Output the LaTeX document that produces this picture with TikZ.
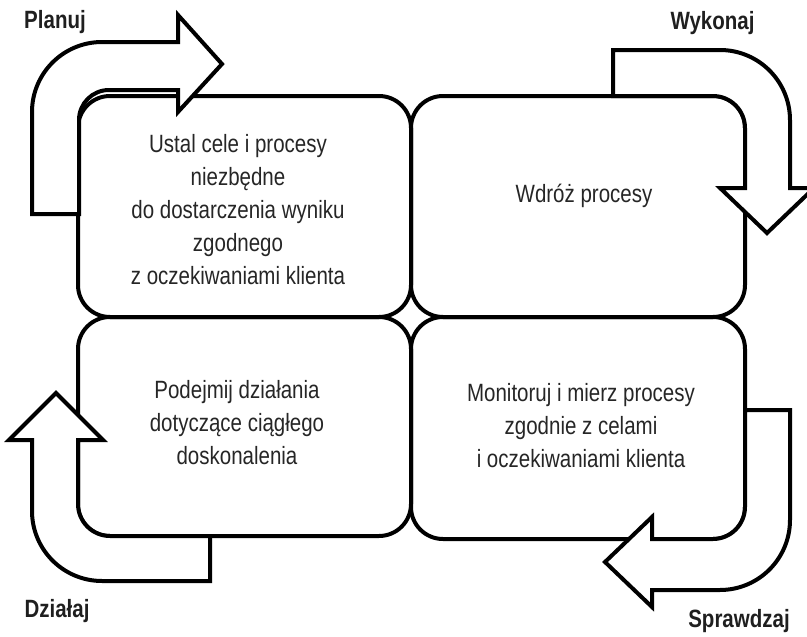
\documentclass[tikz,border=0pt]{standalone}
\usepackage{fontspec}
\setmainfont{Liberation Sans}[FakeStretch=0.82]
\begin{document}
\begin{tikzpicture}[x=1pt,y=-1pt,
  box/.style={draw=black, line width=4pt, rounded corners=32pt, inner sep=0pt, outer sep=0pt},
  bigarrow/.style={draw=black, fill=white, line width=4pt, line join=miter},
  body/.style={align=center, text=black!85, inner sep=0pt, font=\fontsize{25}{33}\selectfont},
  lab/.style={text=black!88, inner sep=0pt, font=\fontsize{25}{30}\selectfont\bfseries}]
\useasboundingbox (0,0) rectangle (807,637);
% boxes
\node[box, minimum width=333pt, minimum height=221pt] (tl) at (244.5,206.5) {};
\node[box, minimum width=334pt, minimum height=221pt] (tr) at (578,206.5) {};
\node[box, minimum width=333pt, minimum height=219pt] (bl) at (244.5,426.5) {};
\node[box, minimum width=334pt, minimum height=222pt] (br) at (578,428) {};
% Planuj arrow
\draw[bigarrow] (32,214) -- (32,112) .. controls (32,73.34) and (63.34,42) .. (102,42) -- (178,42) -- (178,15) -- (222,64) -- (178,112) -- (178,90) -- (109,90) .. controls (92.43,90) and (79,103.43) .. (79,120) -- (79,214) -- cycle;
% Wykonaj arrow
\draw[bigarrow] (613,96) -- (613,50) -- (720,50) .. controls (758.66,50) and (790,81.34) .. (790,120) -- (790,188) -- (814,188) -- (767,233) -- (720,188) -- (745,188) -- (745,128) .. controls (745,110.33) and (730.67,96) .. (713,96) -- cycle;
% Sprawdzaj arrow
\draw[bigarrow] (745,410) -- (790,410) -- (790,520) .. controls (790,558.66) and (758.66,590) .. (720,590) -- (652,590) -- (652,607) -- (605,562) -- (652,517) -- (652,539) -- (713,539) .. controls (730.67,539) and (745,524.67) .. (745,507) -- cycle;
% Dzialaj arrow
\draw[bigarrow] (210,536) -- (210,581) -- (102,581) .. controls (63.34,581) and (32,549.66) .. (32,511) -- (32,440) -- (9,440) -- (56,393) -- (103,440) -- (78,440) -- (78,504) .. controls (78,521.67) and (92.33,536) .. (110,536) -- cycle;
% texts
\node[body, anchor=north] (ttl) at (238,134) {Ustal cele i procesy\\niezbędne\\do dostarczenia wyniku\\zgodnego\\z oczekiwaniami klienta};
\node[body, anchor=base] (ttr) at (584,202) {Wdróż procesy};
\node[body, anchor=north] (tbl) at (237,380) {Podejmij działania\\dotyczące ciągłego\\doskonalenia};
\node[body, anchor=north] (tbr) at (581,383) {Monitoruj i mierz procesy\\zgodnie z celami\\i oczekiwaniami klienta};
% labels
\node[lab, anchor=base] (lp) at (55,28) {Planuj};
\node[lab, anchor=base] (lw) at (712.5,29) {Wykonaj};
\node[lab, anchor=base] (ld) at (57,617) {Działaj};
\node[lab, anchor=base] (ls) at (739,627) {Sprawdzaj};
\end{tikzpicture}
\end{document}
